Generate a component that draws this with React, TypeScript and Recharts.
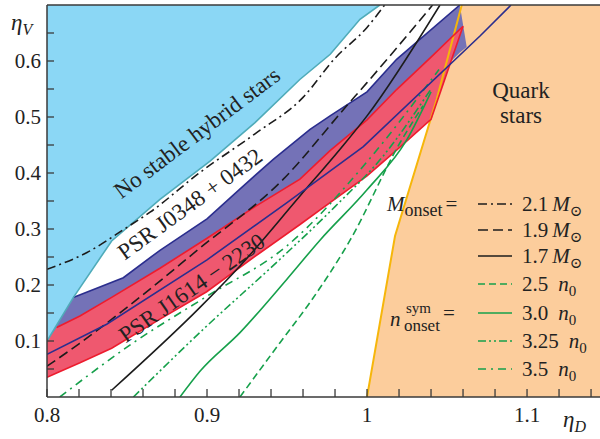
import React from 'react';
import { Area, ComposedChart, Line, ReferenceLine, XAxis, YAxis } from 'recharts';

// axis ticks
const xTicks = [0.8, 0.82, 0.84, 0.86, 0.88, 0.9, 0.92, 0.94, 0.96, 0.98, 1, 1.02, 1.04, 1.06, 1.08, 1.1, 1.12, 1.14];
const xTickLabels = [0.8, 0.9, 1, 1.1];
const yTicks = [0.05, 0.1, 0.15, 0.2, 0.25, 0.3, 0.35, 0.4, 0.45, 0.5, 0.55, 0.6, 0.65];
const yTickLabels = [0.1, 0.2, 0.3, 0.4, 0.5, 0.6];

// "No stable hybrid stars" region, lower edge
const noHybridX = [0.8, 0.8164, 0.8404, 0.8706, 0.9019, 0.93, 0.958, 0.977, 0.9956, 1.008];
const noHybridEdge = [0.1, 0.1775, 0.2786, 0.353, 0.4214, 0.49, 0.567, 0.612, 0.6745, 0.7];
const noHybridTop = [0.7, 0.7, 0.7, 0.7, 0.7, 0.7, 0.7, 0.7, 0.7, 0.7];

// quark star region (left edge)
const quarkX = [1.0, 1.0175, 1.0436, 1.0592, 1.1456];
const quarkY = [0, 0.2875, 0.532, 0.7, 0.7];

// PSR J0348+0432 band
const j0348X = [0.8, 0.8164, 0.8477, 0.8706, 0.9, 0.92, 0.9414, 0.9644, 0.9769, 1.0, 1.0185, 1.058, 1.0623];
const j0348Lo = [0.0763, 0.1, 0.149, 0.191, 0.245, 0.286, 0.33, 0.377, 0.403, 0.452, 0.505, 0.615, 0.625];
const j0348Hi = [0.1, 0.1775, 0.213, 0.262, 0.318, 0.37, 0.4245, 0.478, 0.502, 0.545, 0.603, 0.7, 0.625];
const j0348EdgeX = [0.8, 0.8373, 0.9, 0.95, 0.9977, 1.0706, 1.09];
const j0348EdgeY = [0.0763, 0.13, 0.245, 0.347, 0.447, 0.6446, 0.7];

// PSR J1614-2230 band
const j1614X = [0.8, 0.806, 0.8206, 0.8404, 0.8706, 0.8998, 0.93, 0.9581, 0.9769, 1.0, 1.0185, 1.04, 1.06];
const j1614Lo = [0.035, 0.043, 0.061, 0.087, 0.139, 0.188, 0.251, 0.308, 0.347, 0.395, 0.441, 0.496, 0.662];
const j1614Hi = [0.1, 0.124, 0.1446, 0.178, 0.23, 0.283, 0.34, 0.389, 0.44, 0.495, 0.549, 0.607, 0.662];

// M_onset curves
const m21X = [0.8, 0.825, 0.85, 0.8644, 0.8956, 0.93, 0.96, 0.98, 1.0, 1.011];
const m21Y = [0.228, 0.258, 0.303, 0.33, 0.401, 0.47, 0.535, 0.605, 0.66, 0.7];
const m19X = [0.8, 0.82, 0.85, 0.8956, 0.9477, 0.9873, 1.0, 1.041];
const m19Y = [0.055, 0.095, 0.16, 0.266, 0.389, 0.52, 0.5614, 0.7];
const m17X = [0.8404, 0.8956, 0.9206, 0.9581, 0.983, 1.0, 1.0456];
const m17Y = [0.012, 0.16, 0.234, 0.359, 0.442, 0.502, 0.7];

// n_onset^sym curves
const n25X = [0.9206, 0.9456, 0.9644, 0.9894, 1.0206, 1.035];
const n25Y = [0, 0.097, 0.169, 0.28, 0.454, 0.52];
const n30X = [0.8831, 0.8956, 0.9206, 0.9498, 0.9706, 1.0, 1.025, 1.04];
const n30Y = [0, 0.046, 0.115, 0.21, 0.28, 0.37, 0.46, 0.545];
const n325X = [0.854, 0.8977, 0.9456, 0.98, 1.01, 1.04];
const n325Y = [0, 0.121, 0.246, 0.34, 0.43, 0.55];
const n35X = [0.808, 0.854, 0.9, 0.95, 1.0, 1.045];
const n35Y = [0, 0.097, 0.18, 0.27, 0.42, 0.585];

const massLabels = ['2.1', '1.9', '1.7'];
const densityLabels = ['2.5', '3.0', '3.25', '3.5'];

const pts = (xs: number[], ys: number[]) => xs.map((x, i) => ({ x, y: ys[i] }));
const band = (xs: number[], lo: number[], hi: number[]) => xs.map((x, i) => ({ x, band: [lo[i], hi[i]] }));

const SERIF = '"Liberation Serif", "DejaVu Serif", serif';
const BLACK = '#1c1c1c';
const GREEN = '#16a04b';
const NAVY = '#2b2e8e';
const RED = '#ed1c2e';

const massStyles = [
  { stroke: BLACK, dash: '9 4 2 4' },
  { stroke: BLACK, dash: '10 5' },
  { stroke: BLACK, dash: undefined }
];
const densityStyles = [
  { stroke: GREEN, dash: '7 4' },
  { stroke: GREEN, dash: undefined },
  { stroke: GREEN, dash: '8 3 2 3 2 3' },
  { stroke: GREEN, dash: '8 5 2 5' }
];

const near = (list: number[], v: number) => list.some((l) => Math.abs(l - v) < 1e-6);

function XTick({ x, y, payload }: any) {
  return (
    <g>
      <line x1={x} x2={x} y1={y} y2={y - 8} stroke="#3a3a3a" strokeWidth={1.3} />
      {near(xTickLabels, payload.value) && (
        <text x={x} y={y + 25} textAnchor="middle" fontFamily={SERIF} fontSize={21} fill="#222">
          {String(payload.value)}
        </text>
      )}
    </g>
  );
}

function YTick({ x, y, payload }: any) {
  return (
    <g>
      <line x1={x} x2={x + 7} y1={y} y2={y} stroke="#3a3a3a" strokeWidth={1.3} />
      {near(yTickLabels, payload.value) && (
        <text x={x - 6} y={y + 7} textAnchor="end" fontFamily={SERIF} fontSize={21} fill="#222">
          {String(payload.value)}
        </text>
      )}
    </g>
  );
}

function line(data: any[], stroke: string, dash?: string, width = 1.5, type: any = 'monotone', key?: string) {
  return (
    <Line
      key={key}
      data={data}
      dataKey="y"
      type={type}
      stroke={stroke}
      strokeWidth={width}
      strokeDasharray={dash}
      dot={false}
      activeDot={false}
      isAnimationActive={false}
    />
  );
}

function Overlay() {
  const rowY = [204, 230, 256, 284, 313, 341, 369];
  return (
    <svg width={600} height={439} style={{ position: 'absolute', left: 0, top: 0, pointerEvents: 'none' }} fontFamily={SERIF} fill="#222">
      <text x={11} y={30} fontSize={23} fontStyle="italic">
        η<tspan fontSize={16} dy={5}>V</tspan>
      </text>
      <text x={563} y={427} fontSize={23} fontStyle="italic">
        η<tspan fontSize={16} dy={5}>D</tspan>
      </text>

      <text x={197} y={133} fontSize={23} textAnchor="middle" dominantBaseline="central" transform="rotate(-37 197 133)">
        No stable hybrid stars
      </text>
      <text x={190} y={204} fontSize={23} textAnchor="middle" dominantBaseline="central" transform="rotate(-36 190 204)">
        PSR J0348 + 0432
      </text>
      <text x={192} y={288} fontSize={23} textAnchor="middle" dominantBaseline="central" transform="rotate(-35 192 288)">
        PSR J1614 − 2230
      </text>

      <text x={521} y={98} fontSize={23} textAnchor="middle">Quark</text>
      <text x={521} y={123} fontSize={23} textAnchor="middle">stars</text>

      <text x={387} y={211} fontSize={21}>
        <tspan fontStyle="italic">M</tspan>
        <tspan fontSize={18} dy={5}>onset</tspan>
        <tspan dy={-5} dx={3}>=</tspan>
      </text>
      <text x={390} y={326} fontSize={21}>
        <tspan fontStyle="italic">n</tspan>
      </text>
      <text x={406} y={313} fontSize={15}>sym</text>
      <text x={404} y={331} fontSize={17}>onset</text>
      <text x={443} y={320} fontSize={21}>=</text>

      {massLabels.map((lab, i) => (
        <g key={lab}>
          <line x1={478} x2={512} y1={rowY[i]} y2={rowY[i]} stroke={massStyles[i].stroke} strokeWidth={1.6} strokeDasharray={massStyles[i].dash} />
          <text x={522} y={rowY[i] + 7} fontSize={21}>
            {lab}
            <tspan dx={4} fontStyle="italic">M</tspan>
            <tspan fontSize={15} dy={5}>⊙</tspan>
          </text>
        </g>
      ))}
      {densityLabels.map((lab, i) => (
        <g key={lab}>
          <line x1={478} x2={512} y1={rowY[i + 3]} y2={rowY[i + 3]} stroke={densityStyles[i].stroke} strokeWidth={1.6} strokeDasharray={densityStyles[i].dash} />
          <text x={522} y={rowY[i + 3] + 7} fontSize={21}>
            {lab}
            <tspan dx={10} fontStyle="italic">n</tspan>
            <tspan fontSize={15} dy={5}>0</tspan>
          </text>
        </g>
      ))}
    </svg>
  );
}

export default function App() {
  const massData = [pts(m21X, m21Y), pts(m19X, m19Y), pts(m17X, m17Y)];
  const densityData = [pts(n25X, n25Y), pts(n30X, n30Y), pts(n325X, n325Y), pts(n35X, n35Y)];
  return (
    <div style={{ position: 'absolute', left: 0, top: 0, width: 600, height: 439, background: '#fff' }}>
      <ComposedChart width={600} height={439} margin={{ top: 5, right: 0, left: 0, bottom: 12 }}>
        <XAxis
          dataKey="x"
          type="number"
          domain={[0.8, 1.1456]}
          ticks={xTicks}
          interval={0}
          allowDataOverflow
          tickSize={0}
          tickMargin={0}
          tickLine={false}
          tick={(p: any) => <XTick {...p} />}
          axisLine={{ stroke: '#3a3a3a', strokeWidth: 1.5 }}
          height={30}
        />
        <YAxis
          type="number"
          domain={[0, 0.7]}
          ticks={yTicks}
          interval={0}
          allowDataOverflow
          tickSize={0}
          tickMargin={0}
          tickLine={false}
          tick={(p: any) => <YTick {...p} />}
          axisLine={{ stroke: '#3a3a3a', strokeWidth: 1.5 }}
          width={47}
        />

        <Area data={pts(quarkX, quarkY)} dataKey="y" type="linear" baseValue={0} fill="#fccd9c" fillOpacity={1} stroke="none" isAnimationActive={false} />
        <Area data={band(j0348X, j0348Lo, j0348Hi)} dataKey="band" type="linear" fill="#7472b7" fillOpacity={1} stroke="none" isAnimationActive={false} />
        <Area data={band(j1614X, j1614Lo, j1614Hi)} dataKey="band" type="linear" fill="#ef586f" fillOpacity={1} stroke="none" isAnimationActive={false} />
        <Area data={band(noHybridX, noHybridEdge, noHybridTop)} dataKey="band" type="linear" fill="#8bd7f5" fillOpacity={1} stroke="none" isAnimationActive={false} />

        {line(pts(quarkX.slice(0, 4), quarkY.slice(0, 4)), '#f6b60a', undefined, 2, 'linear', 'quark')}
        {line(pts(j1614X.slice(1), j1614Hi.slice(1)), RED, undefined, 1.6, 'linear', 'redTop')}
        {line(pts(j1614X, j1614Lo), RED, undefined, 1.6, 'linear', 'redLow')}
        {line(pts(j0348X.slice(1, 12), j0348Hi.slice(1, 12)), NAVY, undefined, 1.6, 'linear', 'navyTop')}
        {line(pts(noHybridX, noHybridEdge), '#4fabb9', undefined, 1.6, 'linear', 'teal')}

        {densityData.map((d, i) => line(d, densityStyles[i].stroke, densityStyles[i].dash, 1.6, 'monotone', 'n' + i))}
        {massData.map((d, i) => line(d, massStyles[i].stroke, massStyles[i].dash, 1.6, 'monotone', 'm' + i))}
        {line(pts(j0348EdgeX, j0348EdgeY), NAVY, undefined, 1.6, 'linear', 'navyLow')}

        <ReferenceLine y={0.7} stroke="#3a3a3a" strokeWidth={1.5} />
      </ComposedChart>
      <Overlay />
    </div>
  );
}
